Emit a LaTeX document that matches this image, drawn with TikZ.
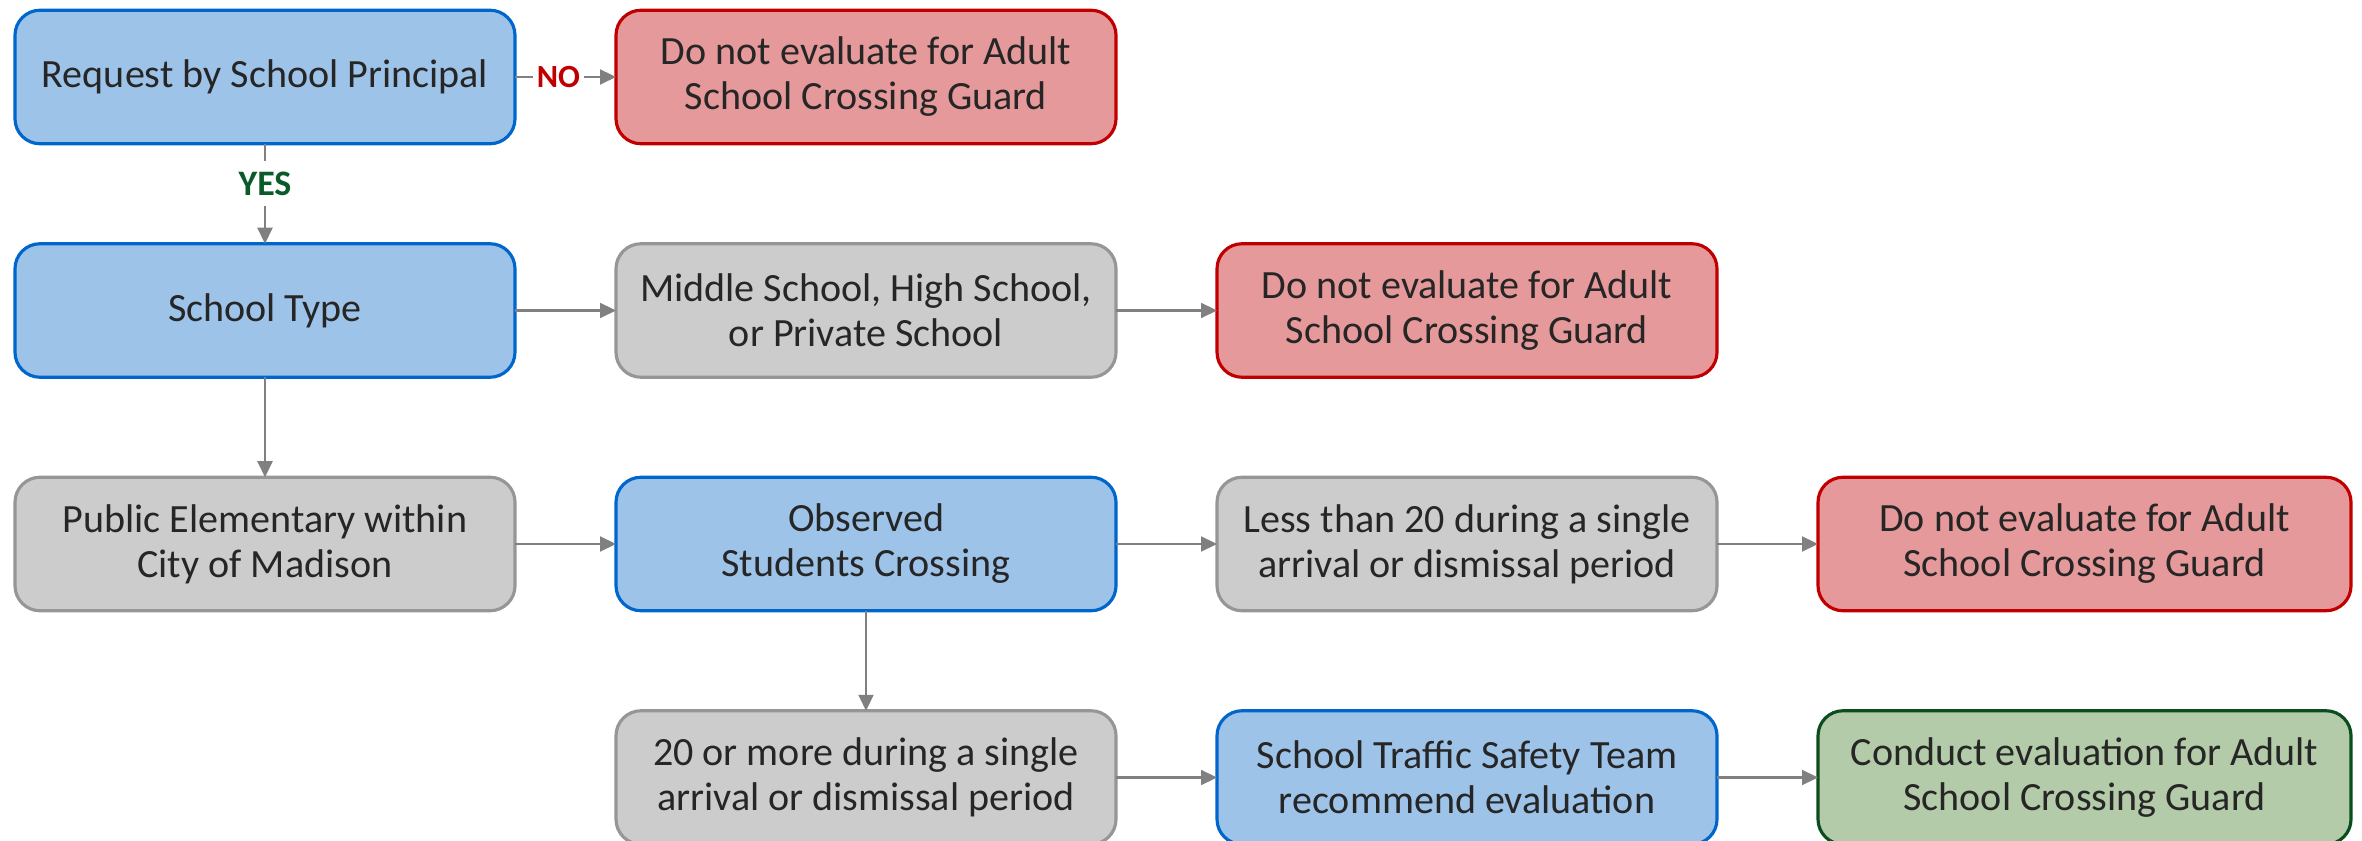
\documentclass[tikz,border=0pt]{standalone}
\usepackage{fontspec}
\setmainfont{Carlito}
\usetikzlibrary{positioning,arrows.meta}
\definecolor{bluefill}{HTML}{9DC3E9}
\definecolor{blueline}{HTML}{0066CC}
\definecolor{redfill}{HTML}{E6999A}
\definecolor{redline}{HTML}{C00000}
\definecolor{greyfill}{HTML}{CCCCCC}
\definecolor{greyline}{HTML}{969696}
\definecolor{greenfill}{HTML}{B3CBA8}
\definecolor{greenline}{HTML}{0B4D1E}
\definecolor{arrline}{HTML}{808080}
\definecolor{txt}{HTML}{262626}
\definecolor{yesgreen}{HTML}{0B5A2A}
\tikzset{
  box/.style={rounded corners=0.25cm, line width=0.9pt, % khung chung
    minimum width=5cm, minimum height=1.335cm,
    align=center, text=txt, inner sep=0pt, outer sep=0pt,
    font=\fontsize{11.4}{12.8}\selectfont},
  bluebox/.style={box, fill=bluefill, draw=blueline}, % buoc
  redbox/.style={box, fill=redfill, draw=redline}, % khong danh gia
  greybox/.style={box, fill=greyfill, draw=greyline}, % dieu kien
  greenbox/.style={box, fill=greenfill, draw=greenline}, % danh gia
  arr/.style={-{Triangle[length=1.6mm,width=1.5mm]}, draw=arrline, line width=0.6pt},
  lbl/.style={fill=white, font=\bfseries}
}
\begin{document}
\begin{tikzpicture}[node distance={1cm and 1.01cm}]
\useasboundingbox (0,0) rectangle (23.62,-8.41); % khung anh
% hang 1
\node[bluebox] (req) at (2.65,-0.77) {Request by School Principal};
\node[redbox, right=of req] (noreq) {Do not evaluate for Adult\\School Crossing Guard};
% hang 2
\node[bluebox, below=of req] (type) {School Type};
\node[greybox, right=of type] (middle) {Middle School, High School,\\or Private School};
\node[redbox, right=of middle] (nomiddle) {Do not evaluate for Adult\\School Crossing Guard};
% hang 3
\node[greybox, below=of type] (public) {Public Elementary within\\City of Madison};
\node[bluebox, right=of public] (observed) {Observed\\Students Crossing};
\node[greybox, right=of observed] (less) {Less than 20 during a single\\arrival or dismissal period};
\node[redbox, right=of less, minimum width=5.33cm] (noless) {Do not evaluate for Adult\\School Crossing Guard};
% hang 4
\node[greybox, below=of observed] (more) {20 or more during a single\\arrival or dismissal period};
\node[bluebox, right=of more] (team) {School Traffic Safety Team\\recommend evaluation};
\node[greenbox, right=of team, minimum width=5.33cm] (conduct) {Conduct evaluation for Adult\\School Crossing Guard};
% mui ten
\draw[arr] (req) -- node[lbl, pos=0.43, inner sep=1pt, text=redline,
  font=\fontsize{9.2}{10}\selectfont\bfseries] {NO} (noreq);
\draw[arr] (req) -- node[lbl, pos=0.4, inner xsep=1pt, inner ysep=3pt, text=yesgreen,
  font=\fontsize{10.2}{11}\selectfont\bfseries] {YES} (type);
\draw[arr] (type) -- (middle);
\draw[arr] (middle) -- (nomiddle);
\draw[arr] (type) -- (public);
\draw[arr] (public) -- (observed);
\draw[arr] (observed) -- (less);
\draw[arr] (less) -- (noless);
\draw[arr] (observed) -- (more);
\draw[arr] (more) -- (team);
\draw[arr] (team) -- (conduct);
\end{tikzpicture}
\end{document}
